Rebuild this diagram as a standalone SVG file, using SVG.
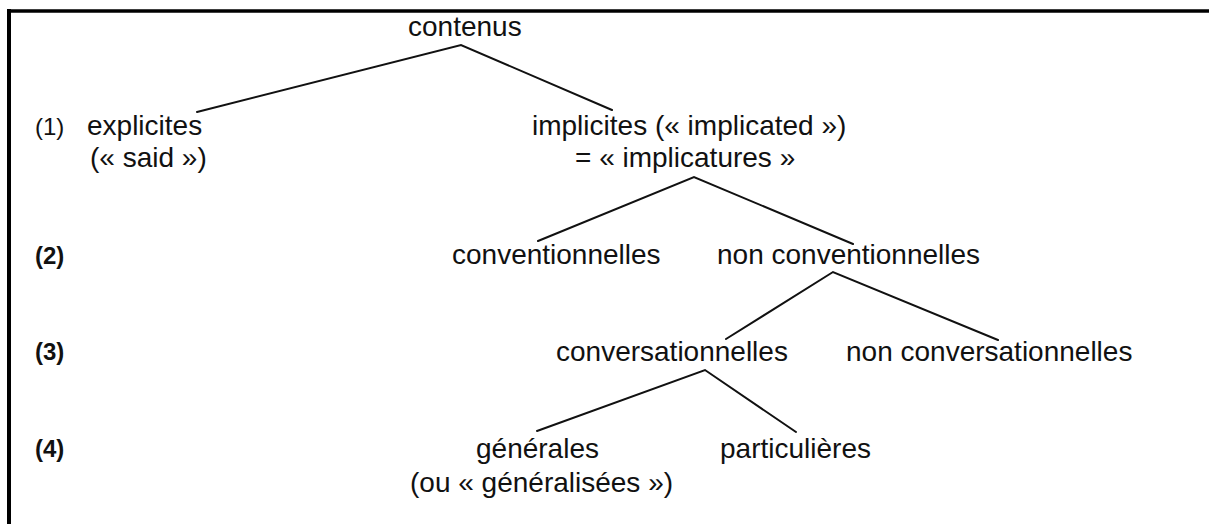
<svg xmlns="http://www.w3.org/2000/svg" width="1209" height="524" viewBox="0 0 1209 524">
<style>
text{font-family:"Liberation Sans",Arial,sans-serif;font-size:28px;fill:#111;}
.lvl{font-size:24px;font-weight:bold;}
.c{stroke:#111;stroke-width:2;fill:none;stroke-linecap:round;}
.frame{stroke:#000;fill:none;}
</style>
<rect width="1209" height="524" fill="#fff"/>
<g id="frame">
<line class="frame" x1="7" y1="11" x2="1209" y2="11" stroke-width="3.5"/>
<line class="frame" x1="9" y1="9" x2="9" y2="524" stroke-width="4"/>
</g>
<g id="levels">
<text class="lvl" style="font-weight:normal" x="35" y="135">(1)</text>
<text class="lvl" x="35" y="264">(2)</text>
<text class="lvl" x="35" y="360">(3)</text>
<text class="lvl" x="35" y="457">(4)</text>
</g>
<g id="connectors">
<polyline class="c" points="197,112 461,45 612,110"/>
<polyline class="c" points="538,241 694,177 853,244"/>
<polyline class="c" points="726,339 833,272 998,340"/>
<polyline class="c" points="537,431 705,370 796,432"/>
</g>
<g id="contenus"><text x="408" y="36">contenus</text></g>
<g id="explicites"><text x="87" y="135">explicites</text><text x="90" y="167">(« said »)</text></g>
<g id="implicites"><text x="532" y="135">implicites (« implicated »)</text><text x="575" y="167">= « implicatures »</text></g>
<g id="conventionnelles"><text x="452" y="264">conventionnelles</text></g>
<g id="non-conventionnelles"><text x="717" y="264">non conventionnelles</text></g>
<g id="conversationnelles"><text x="556" y="361">conversationnelles</text></g>
<g id="non-conversationnelles"><text x="846" y="361">non conversationnelles</text></g>
<g id="generales"><text x="476" y="458">générales</text><text x="410" y="492">(ou « généralisées »)</text></g>
<g id="particulieres"><text x="720" y="458">particulières</text></g>
</svg>
